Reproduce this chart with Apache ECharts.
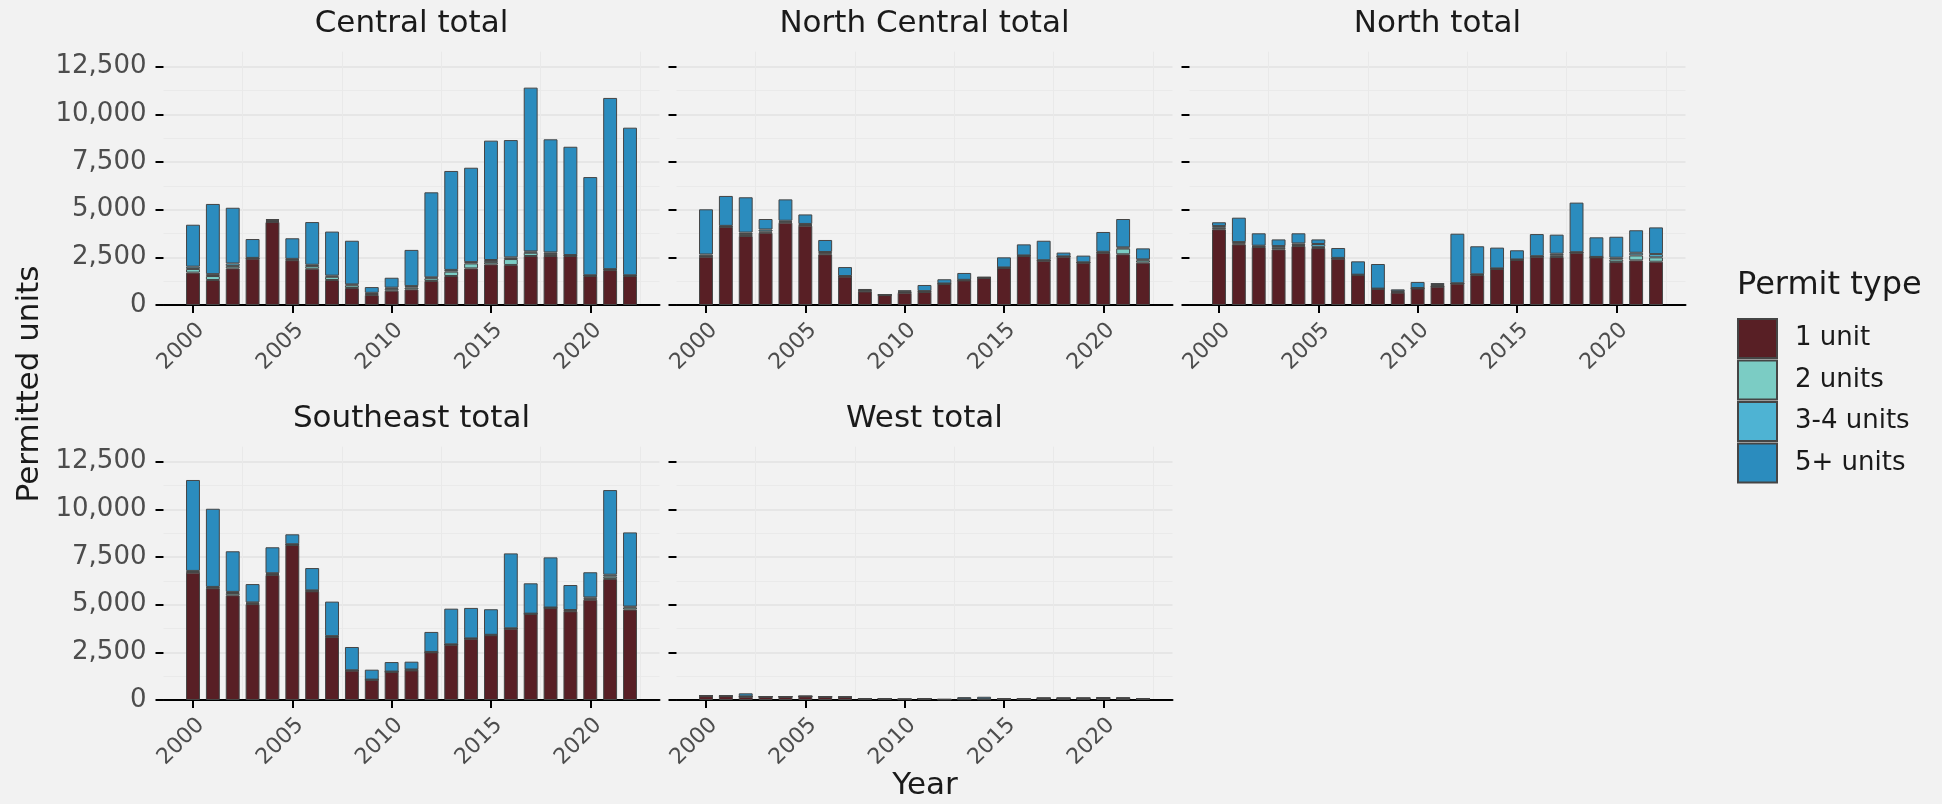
<!DOCTYPE html>
<html>
<head>
<meta charset="utf-8">
<script src="https://cdn.jsdelivr.net/npm/echarts@6/dist/echarts.min.js"></script>
<style>
  html, body { margin: 0; padding: 0; background: #f2f2f2; }
  #chart { width: 1942px; height: 804px; }
</style>
</head>
<body>
<div id="chart"></div>
<script>
// Permitted housing units by region, 2000-2022, split by permit type.
const years = [2000, 2001, 2002, 2003, 2004, 2005, 2006, 2007, 2008, 2009, 2010, 2011,
               2012, 2013, 2014, 2015, 2016, 2017, 2018, 2019, 2020, 2021, 2022];

const permitTypes = ['1 unit', '2 units', '3-4 units', '5+ units'];
const typeColors = ['#581f25', '#7bccc4', '#4eb3d3', '#2b8cbe'];

const centralOne   = [1700, 1310, 1920, 2430, 4350, 2350, 1900, 1310, 890, 520, 750, 820, 1260, 1520, 1920, 2130, 2100, 2570, 2570, 2570, 1520, 1830, 1520];
const centralTwo   = [190, 210, 120, 20, 50, 30, 140, 170, 140, 60, 100, 100, 140, 230, 260, 120, 310, 170, 100, 30, 20, 30, 20];
const centralThree = [120, 100, 140, 20, 50, 40, 70, 60, 50, 60, 60, 70, 50, 90, 70, 110, 90, 70, 90, 20, 20, 20, 20];
const centralFive  = [2200, 3680, 2920, 990, 60, 1080, 2240, 2310, 2290, 300, 520, 1900, 4460, 5190, 4950, 6260, 6150, 8590, 5930, 5680, 5150, 8980, 7740];

const northCentralOne   = [2530, 4100, 3620, 3790, 4320, 4160, 2660, 1490, 710, 520, 640, 680, 1100, 1290, 1420, 1940, 2570, 2320, 2530, 2220, 2740, 2660, 2220];
const northCentralTwo   = [30, 20, 100, 60, 40, 30, 50, 10, 30, 5, 30, 20, 10, 10, 10, 10, 10, 10, 10, 10, 20, 300, 120];
const northCentralThree = [90, 30, 80, 110, 60, 60, 70, 20, 40, 5, 40, 30, 20, 20, 10, 20, 20, 20, 10, 10, 30, 60, 50];
const northCentralFive  = [2370, 1570, 1850, 550, 1120, 500, 630, 470, 60, 10, 60, 320, 220, 360, 30, 530, 580, 1020, 200, 350, 1040, 1490, 580];

const northOne   = [3970, 3180, 3040, 2920, 3090, 2990, 2430, 1570, 840, 650, 870, 960, 1120, 1570, 1890, 2360, 2530, 2520, 2740, 2500, 2250, 2340, 2270];
const northTwo   = [80, 50, 30, 80, 60, 60, 20, 10, 10, 30, 10, 10, 10, 20, 10, 10, 10, 90, 10, 10, 140, 260, 230];
const northThree = [90, 70, 40, 90, 80, 150, 20, 10, 10, 40, 10, 80, 10, 20, 20, 20, 20, 80, 20, 10, 90, 140, 170];
const northFive  = [200, 1280, 650, 350, 530, 240, 520, 700, 1290, 100, 320, 100, 2600, 1470, 1090, 480, 1160, 1000, 2600, 1030, 1100, 1180, 1400];

const southeastOne   = [6680, 5860, 5490, 5030, 6560, 8130, 5700, 3300, 1540, 1050, 1470, 1550, 2500, 2900, 3210, 3400, 3740, 4510, 4820, 4650, 5260, 6350, 4740];
const southeastTwo   = [30, 30, 120, 40, 40, 20, 20, 20, 10, 10, 10, 20, 10, 10, 10, 10, 10, 10, 10, 30, 50, 120, 110];
const southeastThree = [60, 40, 60, 50, 50, 20, 30, 30, 10, 10, 10, 30, 10, 10, 10, 10, 10, 10, 20, 40, 70, 100, 50];
const southeastFive  = [4770, 4100, 2130, 960, 1360, 520, 1170, 1810, 1220, 520, 500, 410, 1050, 1870, 1600, 1340, 3930, 1590, 2630, 1310, 1320, 4440, 3890];

const westOne   = [200, 200, 170, 170, 170, 190, 170, 150, 70, 70, 40, 70, 30, 40, 40, 50, 50, 90, 90, 90, 100, 90, 70];
const westTwo   = [10, 0, 10, 0, 0, 0, 0, 0, 0, 0, 0, 0, 0, 0, 0, 0, 0, 0, 0, 0, 0, 0, 0];
const westThree = [10, 10, 10, 0, 0, 0, 0, 0, 0, 0, 0, 0, 0, 0, 0, 0, 0, 0, 0, 0, 0, 0, 0];
const westFive  = [20, 20, 160, 20, 20, 20, 20, 20, 10, 10, 10, 10, 0, 110, 130, 10, 10, 20, 20, 20, 30, 40, 10];

const yearTicks = [2000, 2005, 2010, 2015, 2020];
const yearMinorLines = [2002.5, 2007.5, 2012.5, 2017.5, 2022.5];
const unitTicks = [0, 2500, 5000, 7500, 10000, 12500];
const unitMinorLines = [1250, 3750, 6250, 8750, 11250];

const panels = [
  { name: 'Central total',       col: 0, row: 0, values: [centralOne, centralTwo, centralThree, centralFive] },
  { name: 'North Central total', col: 1, row: 0, values: [northCentralOne, northCentralTwo, northCentralThree, northCentralFive] },
  { name: 'North total',         col: 2, row: 0, values: [northOne, northTwo, northThree, northFive] },
  { name: 'Southeast total',     col: 0, row: 1, values: [southeastOne, southeastTwo, southeastThree, southeastFive] },
  { name: 'West total',          col: 1, row: 1, values: [westOne, westTwo, westThree, westFive] }
];

// Facet geometry
const FONT = 'DejaVu Sans';
const colLeft = [163.5, 676.5, 1189.5];
const rowTop = [51.7, 446.7];
const PANEL_W = 496;
const PANEL_H = 253.3;
const X_MIN = 1998.515, X_MAX = 2023.485;
const Y_MAX = 13285;
const pxPerYear = PANEL_W / (X_MAX - X_MIN);

const grids = [], xAxes = [], yAxes = [], series = [], graphics = [];

panels.forEach((p, i) => {
  const left = colLeft[p.col], top = rowTop[p.row];
  const outer = grids.length;
  // panel frame: ticks, labels, grid lines
  grids.push({ left: left, top: top, width: PANEL_W, height: PANEL_H });
  // bar area: one band per year
  const inner = grids.length;
  grids.push({
    left: left + (years[0] - 0.5 - X_MIN) * pxPerYear,
    top: top,
    width: years.length * pxPerYear,
    height: PANEL_H
  });

  xAxes.push({
    type: 'value', gridIndex: outer, min: X_MIN, max: X_MAX,
    axisLine: { show: true, onZero: false, lineStyle: { color: '#000000', width: 2 } },
    axisTick: { show: true, length: 8, customValues: yearTicks, lineStyle: { color: '#000000', width: 2 } },
    axisLabel: {
      customValues: yearTicks, rotate: 45, margin: 14, align: 'right', verticalAlign: 'top',
      fontSize: 22, fontFamily: FONT, color: '#4d4d4d',
      formatter: v => String(v)
    },
    splitLine: { show: false }
  });
  xAxes.push({
    type: 'value', gridIndex: outer, min: X_MIN, max: X_MAX,
    axisLine: { show: false },
    axisTick: { show: false, customValues: yearMinorLines },
    axisLabel: { show: false },
    splitLine: { show: true, lineStyle: { color: '#e9e9e9', width: 1 } }
  });
  const barX = xAxes.length;
  xAxes.push({
    type: 'category', gridIndex: inner, data: years, boundaryGap: true, show: false
  });

  yAxes.push({
    type: 'value', gridIndex: outer, min: 0, max: Y_MAX,
    axisLine: { show: false },
    axisTick: { show: true, length: 8, customValues: unitTicks, lineStyle: { color: '#000000', width: 2 } },
    axisLabel: {
      show: p.col === 0, customValues: unitTicks, margin: 17,
      fontSize: 26, fontFamily: FONT, color: '#4d4d4d',
      formatter: v => v.toLocaleString('en-US')
    },
    splitLine: { show: true, lineStyle: { color: '#e6e6e6', width: 2 } }
  });
  yAxes.push({
    type: 'value', gridIndex: outer, min: 0, max: Y_MAX, position: 'left',
    axisLine: { show: false },
    axisTick: { show: false, customValues: unitMinorLines },
    axisLabel: { show: false },
    splitLine: { show: true, lineStyle: { color: '#eaeaea', width: 1 } }
  });
  const barY = yAxes.length;
  yAxes.push({
    type: 'value', gridIndex: inner, min: 0, max: Y_MAX, show: false, splitLine: { show: false }
  });

  permitTypes.forEach((t, k) => {
    series.push({
      name: t, type: 'bar', stack: 'panel' + i,
      xAxisIndex: barX, yAxisIndex: barY,
      barWidth: '70%',
      data: p.values[k],
      itemStyle: { color: typeColors[k], borderColor: '#454545', borderWidth: 1 },
      emphasis: { disabled: true },
      z: 3
    });
  });

  graphics.push({
    type: 'text', x: left + PANEL_W / 2, y: top - 27.5,
    style: { text: p.name, fontSize: 31, fontFamily: FONT, fill: '#1a1a1a', align: 'center', verticalAlign: 'middle' }
  });
});

graphics.push({
  type: 'text', x: 29.5, y: 384, rotation: Math.PI / 2,
  style: { text: 'Permitted units', fontSize: 31, fontFamily: FONT, fill: '#1a1a1a', align: 'center', verticalAlign: 'middle' }
});
graphics.push({
  type: 'text', x: 925, y: 786,
  style: { text: 'Year', fontSize: 31, fontFamily: FONT, fill: '#1a1a1a', align: 'center', verticalAlign: 'middle' }
});
graphics.push({
  type: 'text', x: 1737, y: 286,
  style: { text: 'Permit type', fontSize: 32, fontFamily: FONT, fill: '#1a1a1a', align: 'left', verticalAlign: 'middle' }
});

const chart = echarts.init(document.getElementById('chart'), null, { renderer: 'canvas' });
chart.setOption({
  backgroundColor: '#f2f2f2',
  animation: false,
  grid: grids,
  xAxis: xAxes,
  yAxis: yAxes,
  series: series,
  legend: {
    data: permitTypes, orient: 'vertical', left: 1737, top: 318,
    icon: 'rect', itemWidth: 39, itemHeight: 39, itemGap: 0.5, padding: 0,
    selectedMode: false,
    textStyle: { fontSize: 26, fontFamily: FONT, color: '#1a1a1a', padding: [0, 0, 0, 13] }
  },
  graphic: graphics
});
</script>
</body>
</html>
